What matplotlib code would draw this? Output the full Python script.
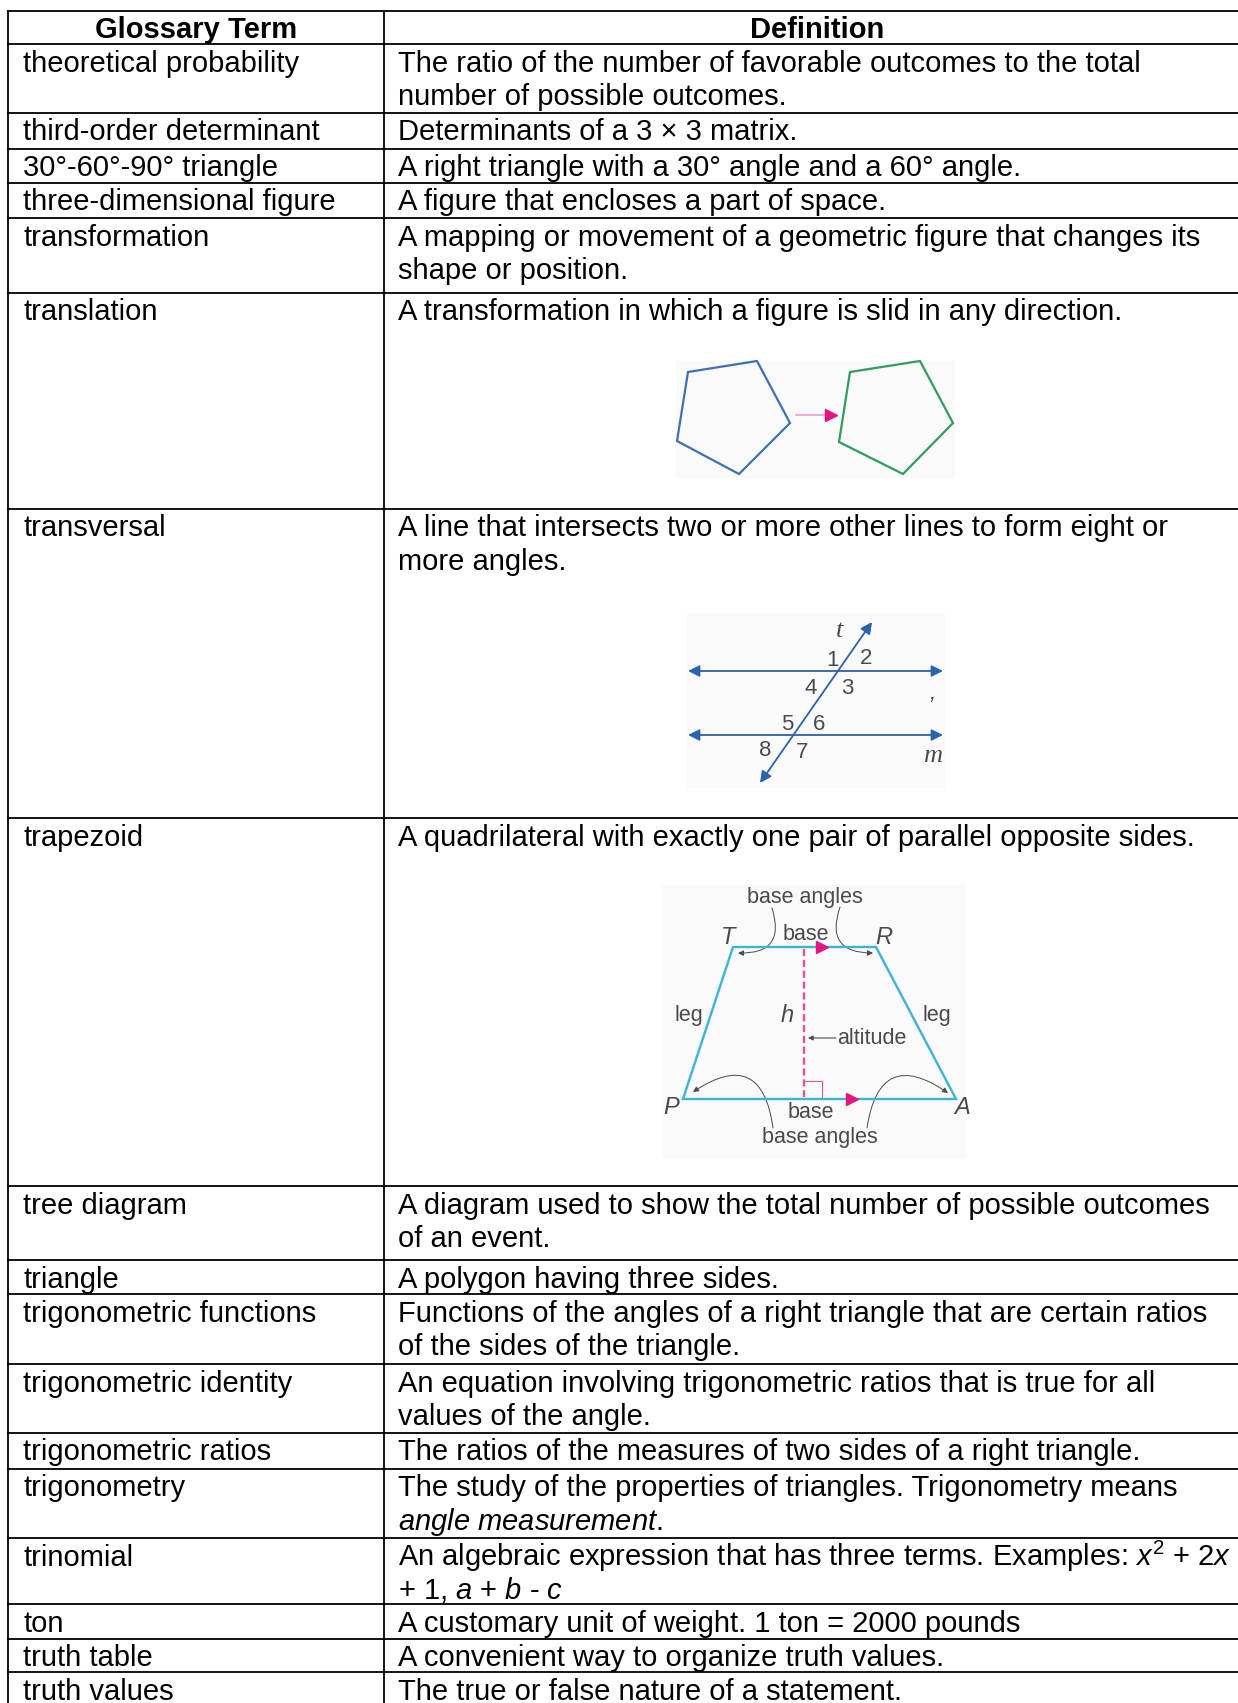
import matplotlib
matplotlib.use("Agg")
import matplotlib.pyplot as plt
from matplotlib.patches import Polygon, Rectangle, FancyArrowPatch

plt.rcParams['font.family'] = ['Liberation Sans', 'DejaVu Sans']
plt.rcParams['mathtext.fontset'] = 'custom'
plt.rcParams['mathtext.rm'] = 'Liberation Sans'
plt.rcParams['mathtext.it'] = 'Liberation Sans:italic'

# table content
headers = ['Glossary Term', 'Definition']
terms = ['theoretical probability', 'third-order determinant', '30°-60°-90° triangle',
         'three-dimensional figure', 'transformation', 'translation', 'transversal',
         'trapezoid', 'tree diagram', 'triangle', 'trigonometric functions',
         'trigonometric identity', 'trigonometric ratios', 'trigonometry', 'trinomial',
         'ton', 'truth table', 'truth values']
definitions = [
    ['The ratio of the number of favorable outcomes to the total', 'number of possible outcomes.'],
    ['Determinants of a 3 × 3 matrix.'],
    ['A right triangle with a 30° angle and a 60° angle.'],
    ['A figure that encloses a part of space.'],
    ['A mapping or movement of a geometric figure that changes its', 'shape or position.'],
    ['A transformation in which a figure is slid in any direction.'],
    ['A line that intersects two or more other lines to form eight or', 'more angles.'],
    ['A quadrilateral with exactly one pair of parallel opposite sides.'],
    ['A diagram used to show the total number of possible outcomes', 'of an event.'],
    ['A polygon having three sides.'],
    ['Functions of the angles of a right triangle that are certain ratios', 'of the sides of the triangle.'],
    ['An equation involving trigonometric ratios that is true for all', 'values of the angle.'],
    ['The ratios of the measures of two sides of a right triangle.'],
    ['The study of the properties of triangles. Trigonometry means', r'$angle\ measurement.$'],
    ['An algebraic expression that has three terms. Examples: $x^2$ + 2$x$', '+ 1, $a$ + $b$ - $c$'],
    ['A customary unit of weight. 1 ton = 2000 pounds'],
    ['A convenient way to organize truth values.'],
    ['The true or false nature of a statement.'],
]

# layout (pixels)
row_h = [69, 36, 34, 35, 75, 216, 309, 368, 74, 34, 70, 69, 36, 69, 66, 35, 33, 35]
top, head_bottom = 10.5, 44
x_left, x_mid, x_right = 8, 384, 1250
fs = 21
pitch = 33.7

fig = plt.figure(figsize=(12.38, 17.03), dpi=100)
ax = fig.add_axes([0, 0, 1, 1])
ax.set_xlim(0, 1238)
ax.set_ylim(1703, 0)
ax.axis('off')

# header
ax.text((x_left + x_mid) / 2, top + 27, headers[0], fontsize=fs, fontweight='bold',
        ha='center', va='baseline')
ax.text((x_mid + x_right) / 2, top + 27, headers[1], fontsize=fs, fontweight='bold',
        ha='center', va='baseline')

lw = 1.3
ax.plot([x_left, x_right], [top, top], color='black', lw=lw)
ax.plot([x_left, x_right], [head_bottom, head_bottom], color='black', lw=lw)

y = head_bottom
for term, lines, h in zip(terms, definitions, row_h):
    ax.text(23, y + 27.5, term, fontsize=fs, va='baseline')
    for i, line in enumerate(lines):
        ax.text(398, y + 27.5 + i * pitch, line, fontsize=fs, va='baseline')
    y += h
    ax.plot([x_left, x_right], [y, y], color='black', lw=lw)

ax.plot([x_left, x_left], [top, y], color='black', lw=lw)
ax.plot([x_mid, x_mid], [top, y], color='black', lw=lw)

gray = '#4a4a4a'
bg = '#fafafa'

# translation picture
ax.add_patch(Rectangle((676, 361), 278, 116, color=bg, zorder=0))
blue_pent = [(688, 372), (757, 361), (790, 423), (739, 474), (677, 441)]
green_pent = [(850, 372), (920, 361), (953, 423), (903, 474), (839, 442)]
ax.add_patch(Polygon(blue_pent, closed=True, fill=False, ec='#3d70b5', lw=1.6))
ax.add_patch(Polygon(green_pent, closed=True, fill=False, ec='#2f9d5b', lw=1.6))
ax.plot([796, 826], [415, 415], color='#f39ac6', lw=1.2)
ax.plot([831], [415], marker='>', color='#e5157f', ms=9)

# transversal picture
ax.add_patch(Rectangle((687, 613), 257, 174, color=bg, zorder=0))
tcol = '#2b62b0'
for yy in [671, 735]:
    ax.annotate('', xy=(688, yy), xytext=(943, yy),
                arrowprops=dict(arrowstyle='<|-|>', color=tcol, lw=1.3,
                                mutation_scale=17, shrinkA=0, shrinkB=0))
ax.annotate('', xy=(760, 783), xytext=(872, 622),
            arrowprops=dict(arrowstyle='<|-|>', color=tcol, lw=1.3,
                            mutation_scale=17, shrinkA=0, shrinkB=0))
nums = [('1', 832, 660), ('2', 866, 659), ('4', 811, 688), ('3', 847, 688),
        ('5', 787, 724), ('6', 819, 724), ('8', 765, 751), ('7', 802, 752)]
for s, xx, yy in nums:
    ax.text(xx, yy, s, fontsize=16, color=gray, ha='center', va='center')
ax.text(840, 631, 't', fontsize=19, color=gray, style='italic', family='Liberation Serif',
        ha='center', va='center')
ax.text(933, 694, ',', fontsize=16, color=gray, style='italic', ha='center', va='center')
ax.text(933, 756, 'm', fontsize=19, color=gray, style='italic', family='Liberation Serif',
        ha='center', va='center')

# trapezoid picture
ax.add_patch(Rectangle((662, 885), 303, 272, color=bg, zorder=0))
trap = [(733, 947), (876, 947), (956, 1099), (683, 1099)]
ax.add_patch(Polygon(trap, closed=True, fill=False, ec='#3bb3da', lw=1.7, zorder=3))
pink = '#ea4f98'
ax.plot([804, 804], [949, 1097], color=pink, lw=1.7, ls=(0, (3, 1.6)), zorder=2)
ax.plot([804, 822, 822], [1081, 1081, 1099], color=pink, lw=0.8)
ax.plot([822], [947], marker='>', color='#e5157f', ms=9, zorder=4)
ax.plot([852], [1099], marker='>', color='#e5157f', ms=9, zorder=4)
arcs = [((772, 908), (738, 953), -0.7), ((840, 907), (873, 953), 0.7),
        ((773, 1128), (693, 1092), 0.8), ((867, 1128), (948, 1093), -0.8)]
for a, b, r in arcs:
    ax.add_patch(FancyArrowPatch(a, b, connectionstyle='arc3,rad=%s' % r,
                                 arrowstyle='-|>', mutation_scale=8, color=gray,
                                 lw=0.7, shrinkA=0, shrinkB=0))
ax.annotate('', xy=(808, 1038), xytext=(836, 1038),
            arrowprops=dict(arrowstyle='-|>', color=gray, lw=0.8, mutation_scale=7,
                            shrinkA=0, shrinkB=0))
labels = [('base angles', 805, 898), ('base', 806, 934), ('leg', 689, 1015),
          ('leg', 937, 1015), ('base', 811, 1112), ('base angles', 820, 1138)]
for s, xx, yy in labels:
    ax.text(xx, yy, s, fontsize=15.5, color=gray, ha='center', va='center')
ax.text(837, 1038, 'altitude', fontsize=15.5, color=gray, ha='left', va='center')
for s, xx, yy in [('T', 728, 937), ('R', 884, 937), ('P', 671, 1107), ('A', 962, 1107), ('h', 787, 1016)]:
    ax.text(xx, yy, s, fontsize=17, color=gray, style='italic', ha='center', va='center')

fig.savefig('out.png', dpi=100, facecolor='white')
